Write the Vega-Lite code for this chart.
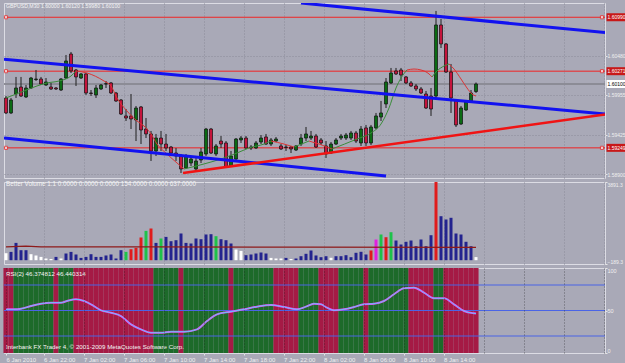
{
"$schema": "https://vega.github.io/schema/vega-lite/v6.json",
"background": "#a9a9b7",
"padding": {"left": 1, "top": 2, "right": 0, "bottom": 0},
"bounds": "flush",
"spacing": 4,
"config": {
  "view": {"stroke": "#dcdce4", "strokeWidth": 1},
  "font": "Liberation Sans",
  "axis": {"domain": false, "labelFont": "Liberation Sans", "labelFontSize": 5, "labelColor": "#f0f0f0", "tickColor": "#e6e6e6", "tickSize": 2, "gridColor": "#8b8b99", "gridDash": [1, 2], "gridWidth": 1, "labelOverlap": false, "labelPadding": 0},
  "text": {"font": "Liberation Sans"}
},
"resolve": {"scale": {"x": "independent", "y": "independent", "color": "independent"}},
"datasets": {
"bars": [
{"t":0,"o":1.59914,"h":1.5994,"l":1.597,"c":1.59714,"v":348,"vt":"low","z":"bear"},
{"t":1,"o":1.59714,"h":1.59914,"l":1.597,"c":1.59887,"v":413,"vt":"neutral","z":"bear"},
{"t":2,"o":1.59967,"h":1.60194,"l":1.59914,"c":1.60047,"v":861,"vt":"neutral","z":"bull"},
{"t":3,"o":1.6006,"h":1.60194,"l":1.59927,"c":1.5994,"v":498,"vt":"neutral","z":"bull"},
{"t":4,"o":1.59927,"h":1.60087,"l":1.59914,"c":1.60047,"v":498,"vt":"neutral","z":"bull"},
{"t":5,"o":1.60047,"h":1.60194,"l":1.60034,"c":1.6018,"v":299,"vt":"low","z":"bull"},
{"t":6,"o":1.6016,"h":1.60287,"l":1.6014,"c":1.60167,"v":234,"vt":"low","z":"bull"},
{"t":7,"o":1.60167,"h":1.60194,"l":1.60087,"c":1.601,"v":164,"vt":"low","z":"bull"},
{"t":8,"o":1.60087,"h":1.6018,"l":1.60074,"c":1.60127,"v":85,"vt":"low","z":"bull"},
{"t":9,"o":1.6006,"h":1.60114,"l":1.6002,"c":1.60034,"v":60,"vt":"low","z":"bull"},
{"t":10,"o":1.60047,"h":1.6006,"l":1.6002,"c":1.60034,"v":164,"vt":"neutral","z":"bear"},
{"t":11,"o":1.6002,"h":1.6018,"l":1.60007,"c":1.60167,"v":85,"vt":"low","z":"bull"},
{"t":12,"o":1.6018,"h":1.60487,"l":1.60167,"c":1.60407,"v":333,"vt":"neutral","z":"bull"},
{"t":13,"o":1.605,"h":1.60527,"l":1.60247,"c":1.60274,"v":413,"vt":"neutral","z":"bull"},
{"t":14,"o":1.60287,"h":1.603,"l":1.60074,"c":1.60194,"v":284,"vt":"neutral","z":"bear"},
{"t":15,"o":1.6018,"h":1.60247,"l":1.60167,"c":1.60234,"v":114,"vt":"neutral","z":"bear"},
{"t":16,"o":1.60234,"h":1.60247,"l":1.59954,"c":1.5998,"v":164,"vt":"neutral","z":"bear"},
{"t":17,"o":1.5998,"h":1.6002,"l":1.5994,"c":1.59974,"v":299,"vt":"neutral","z":"bear"},
{"t":18,"o":1.59954,"h":1.60087,"l":1.59914,"c":1.60047,"v":164,"vt":"neutral","z":"bear"},
{"t":19,"o":1.60034,"h":1.601,"l":1.6002,"c":1.60087,"v":164,"vt":"neutral","z":"bear"},
{"t":20,"o":1.601,"h":1.6014,"l":1.60047,"c":1.60104,"v":234,"vt":"neutral","z":"bear"},
{"t":21,"o":1.60114,"h":1.60127,"l":1.59967,"c":1.5998,"v":284,"vt":"neutral","z":"bear"},
{"t":22,"o":1.5998,"h":1.59994,"l":1.5986,"c":1.59874,"v":85,"vt":"neutral","z":"bear"},
{"t":23,"o":1.59887,"h":1.599,"l":1.59687,"c":1.597,"v":498,"vt":"neutral","z":"bear"},
{"t":24,"o":1.59674,"h":1.59767,"l":1.59607,"c":1.59647,"v":413,"vt":"churn","z":"bear"},
{"t":25,"o":1.59674,"h":1.59967,"l":1.595,"c":1.59634,"v":547,"vt":"climax","z":"bear"},
{"t":26,"o":1.5962,"h":1.59807,"l":1.5934,"c":1.5978,"v":612,"vt":"climax","z":"bear"},
{"t":27,"o":1.59794,"h":1.59807,"l":1.593,"c":1.59487,"v":1130,"vt":"climax","z":"bear"},
{"t":28,"o":1.595,"h":1.59647,"l":1.5938,"c":1.59434,"v":1458,"vt":"churn","z":"bear"},
{"t":29,"o":1.59434,"h":1.59474,"l":1.59074,"c":1.59207,"v":1577,"vt":"climax","z":"bear"},
{"t":30,"o":1.59207,"h":1.59434,"l":1.5914,"c":1.5938,"v":861,"vt":"neutral","z":"bull"},
{"t":31,"o":1.5938,"h":1.59474,"l":1.59207,"c":1.593,"v":1080,"vt":"churn","z":"bull"},
{"t":32,"o":1.593,"h":1.59434,"l":1.59207,"c":1.59247,"v":1159,"vt":"neutral","z":"bull"},
{"t":33,"o":1.5926,"h":1.59274,"l":1.5914,"c":1.5918,"v":945,"vt":"neutral","z":"bull"},
{"t":34,"o":1.5918,"h":1.59247,"l":1.59074,"c":1.5914,"v":995,"vt":"neutral","z":"bull"},
{"t":35,"o":1.5914,"h":1.59167,"l":1.58914,"c":1.58967,"v":1329,"vt":"neutral","z":"bear"},
{"t":36,"o":1.5898,"h":1.59167,"l":1.58967,"c":1.5914,"v":861,"vt":"neutral","z":"bull"},
{"t":37,"o":1.59047,"h":1.5914,"l":1.59007,"c":1.591,"v":831,"vt":"neutral","z":"bull"},
{"t":38,"o":1.58967,"h":1.5914,"l":1.5894,"c":1.59074,"v":1080,"vt":"neutral","z":"bull"},
{"t":39,"o":1.59087,"h":1.59247,"l":1.59047,"c":1.59194,"v":1045,"vt":"neutral","z":"bull"},
{"t":40,"o":1.59167,"h":1.59514,"l":1.5914,"c":1.595,"v":1279,"vt":"neutral","z":"bull"},
{"t":41,"o":1.595,"h":1.59514,"l":1.59167,"c":1.5918,"v":1294,"vt":"neutral","z":"bull"},
{"t":42,"o":1.59167,"h":1.593,"l":1.5914,"c":1.59274,"v":1194,"vt":"churn","z":"bull"},
{"t":43,"o":1.5934,"h":1.59407,"l":1.59247,"c":1.593,"v":1045,"vt":"neutral","z":"bull"},
{"t":44,"o":1.59314,"h":1.5934,"l":1.5898,"c":1.58994,"v":995,"vt":"neutral","z":"bull"},
{"t":45,"o":1.59007,"h":1.59207,"l":1.58994,"c":1.5914,"v":831,"vt":"neutral","z":"bear"},
{"t":46,"o":1.591,"h":1.5938,"l":1.59074,"c":1.59367,"v":532,"vt":"low","z":"bull"},
{"t":47,"o":1.59354,"h":1.59407,"l":1.59314,"c":1.5938,"v":463,"vt":"low","z":"bull"},
{"t":48,"o":1.5938,"h":1.59407,"l":1.59234,"c":1.59247,"v":249,"vt":"neutral","z":"bull"},
{"t":49,"o":1.59247,"h":1.59287,"l":1.5922,"c":1.5926,"v":284,"vt":"neutral","z":"bull"},
{"t":50,"o":1.59247,"h":1.5934,"l":1.59234,"c":1.59314,"v":333,"vt":"neutral","z":"bull"},
{"t":51,"o":1.59327,"h":1.5942,"l":1.593,"c":1.5938,"v":383,"vt":"neutral","z":"bull"},
{"t":52,"o":1.59394,"h":1.59434,"l":1.59287,"c":1.593,"v":333,"vt":"neutral","z":"bull"},
{"t":53,"o":1.593,"h":1.5938,"l":1.59274,"c":1.59354,"v":114,"vt":"low","z":"bull"},
{"t":54,"o":1.5934,"h":1.59394,"l":1.59327,"c":1.59367,"v":85,"vt":"low","z":"bear"},
{"t":55,"o":1.59274,"h":1.593,"l":1.5922,"c":1.59234,"v":85,"vt":"low","z":"bear"},
{"t":56,"o":1.5926,"h":1.59287,"l":1.59207,"c":1.59254,"v":114,"vt":"neutral","z":"bear"},
{"t":57,"o":1.5926,"h":1.59274,"l":1.5918,"c":1.59234,"v":60,"vt":"low","z":"bear"},
{"t":58,"o":1.5922,"h":1.59287,"l":1.59207,"c":1.59274,"v":85,"vt":"neutral","z":"bear"},
{"t":59,"o":1.593,"h":1.59434,"l":1.59274,"c":1.5938,"v":199,"vt":"neutral","z":"bull"},
{"t":60,"o":1.5938,"h":1.59527,"l":1.5934,"c":1.59434,"v":318,"vt":"neutral","z":"bull"},
{"t":61,"o":1.5938,"h":1.59474,"l":1.59354,"c":1.59407,"v":483,"vt":"neutral","z":"bull"},
{"t":62,"o":1.59407,"h":1.59434,"l":1.59247,"c":1.5926,"v":234,"vt":"neutral","z":"bull"},
{"t":63,"o":1.59354,"h":1.5938,"l":1.59287,"c":1.59314,"v":149,"vt":"neutral","z":"bear"},
{"t":64,"o":1.59274,"h":1.5934,"l":1.59114,"c":1.59167,"v":199,"vt":"neutral","z":"bear"},
{"t":65,"o":1.5918,"h":1.59327,"l":1.59167,"c":1.593,"v":119,"vt":"low","z":"bear"},
{"t":66,"o":1.593,"h":1.5938,"l":1.59287,"c":1.59354,"v":199,"vt":"neutral","z":"bear"},
{"t":67,"o":1.5938,"h":1.59434,"l":1.59354,"c":1.59407,"v":199,"vt":"neutral","z":"bull"},
{"t":68,"o":1.5938,"h":1.59447,"l":1.59354,"c":1.5942,"v":249,"vt":"neutral","z":"bull"},
{"t":69,"o":1.5938,"h":1.59474,"l":1.59354,"c":1.59447,"v":149,"vt":"neutral","z":"bull"},
{"t":70,"o":1.59447,"h":1.59474,"l":1.59314,"c":1.5934,"v":368,"vt":"neutral","z":"bull"},
{"t":71,"o":1.59314,"h":1.5954,"l":1.59274,"c":1.595,"v":418,"vt":"neutral","z":"bull"},
{"t":72,"o":1.59514,"h":1.59554,"l":1.59274,"c":1.59314,"v":284,"vt":"neutral","z":"bear"},
{"t":73,"o":1.59314,"h":1.59554,"l":1.59287,"c":1.59527,"v":483,"vt":"climax","z":"bull"},
{"t":74,"o":1.59514,"h":1.59714,"l":1.595,"c":1.59674,"v":1030,"vt":"climaxchurn","z":"bull"},
{"t":75,"o":1.5966,"h":1.59874,"l":1.59607,"c":1.59714,"v":1279,"vt":"churn","z":"bull"},
{"t":76,"o":1.59834,"h":1.6018,"l":1.5978,"c":1.60127,"v":1144,"vt":"climax","z":"bull"},
{"t":77,"o":1.60114,"h":1.60314,"l":1.601,"c":1.60247,"v":1393,"vt":"churn","z":"bull"},
{"t":78,"o":1.60274,"h":1.60314,"l":1.6022,"c":1.60234,"v":980,"vt":"neutral","z":"bull"},
{"t":79,"o":1.60287,"h":1.60314,"l":1.6014,"c":1.6022,"v":781,"vt":"neutral","z":"bull"},
{"t":80,"o":1.60194,"h":1.60207,"l":1.601,"c":1.60114,"v":916,"vt":"neutral","z":"bull"},
{"t":81,"o":1.60114,"h":1.6014,"l":1.6006,"c":1.60074,"v":980,"vt":"neutral","z":"bear"},
{"t":82,"o":1.60074,"h":1.601,"l":1.60007,"c":1.60034,"v":697,"vt":"neutral","z":"bear"},
{"t":83,"o":1.60034,"h":1.6006,"l":1.59967,"c":1.5998,"v":1030,"vt":"neutral","z":"bear"},
{"t":84,"o":1.59967,"h":1.60007,"l":1.59767,"c":1.5978,"v":697,"vt":"neutral","z":"bear"},
{"t":85,"o":1.5994,"h":1.60047,"l":1.59674,"c":1.59767,"v":1244,"vt":"neutral","z":"bear"},
{"t":86,"o":1.5994,"h":1.61074,"l":1.59887,"c":1.60887,"v":3891.3,"vt":"climax","z":"bull"},
{"t":87,"o":1.60887,"h":1.60967,"l":1.6058,"c":1.60634,"v":2189,"vt":"neutral","z":"bull"},
{"t":88,"o":1.60634,"h":1.60647,"l":1.60247,"c":1.6026,"v":2025,"vt":"neutral","z":"bear"},
{"t":89,"o":1.6026,"h":1.60367,"l":1.59714,"c":1.59914,"v":2110,"vt":"neutral","z":"bear"},
{"t":90,"o":1.59887,"h":1.599,"l":1.59527,"c":1.59554,"v":1329,"vt":"neutral","z":"bear"},
{"t":91,"o":1.59567,"h":1.59807,"l":1.59554,"c":1.5978,"v":1279,"vt":"neutral","z":"bear"},
{"t":92,"o":1.59754,"h":1.59887,"l":1.5974,"c":1.5986,"v":916,"vt":"neutral","z":"bear"},
{"t":93,"o":1.59874,"h":1.6002,"l":1.5986,"c":1.5998,"v":697,"vt":"neutral","z":"bear"},
{"t":94,"o":1.6,"h":1.6012,"l":1.5998,"c":1.601,"v":154,"vt":"low","z":"bear"}
],
"ma": [
{"seg":"A","dir":"up","t":0,"p":1.59914},{"seg":"A","dir":"up","t":3.6,"p":1.60007},{"seg":"A","dir":"up","t":6.2,"p":1.60074},{"seg":"A","dir":"up","t":8.2,"p":1.60114},{"seg":"A","dir":"up","t":10.6,"p":1.6014},{"seg":"A","dir":"up","t":13,"p":1.60207},{"seg":"A","dir":"up","t":14,"p":1.60274},
{"seg":"B","dir":"down","t":14,"p":1.60274},{"seg":"B","dir":"down","t":16.2,"p":1.60247},{"seg":"B","dir":"down","t":19.6,"p":1.6014},{"seg":"B","dir":"down","t":21,"p":1.60074},{"seg":"B","dir":"down","t":22.2,"p":1.59914},{"seg":"B","dir":"down","t":24.2,"p":1.5974},{"seg":"B","dir":"down","t":26.2,"p":1.59607},{"seg":"B","dir":"down","t":27.6,"p":1.5954},{"seg":"B","dir":"down","t":29,"p":1.59434},{"seg":"B","dir":"down","t":30.2,"p":1.593},{"seg":"B","dir":"down","t":32.2,"p":1.59167},{"seg":"B","dir":"down","t":34.2,"p":1.59047},{"seg":"B","dir":"down","t":35.6,"p":1.58967},
{"seg":"C","dir":"up","t":35.6,"p":1.58967},{"seg":"C","dir":"up","t":39.6,"p":1.59034},{"seg":"C","dir":"up","t":43.6,"p":1.59114},{"seg":"C","dir":"up","t":46.2,"p":1.5918},{"seg":"C","dir":"up","t":48.6,"p":1.59247},{"seg":"C","dir":"up","t":51.6,"p":1.593},{"seg":"C","dir":"up","t":53,"p":1.5934},
{"seg":"D","dir":"down","t":53,"p":1.5934},{"seg":"D","dir":"down","t":55.6,"p":1.593},{"seg":"D","dir":"down","t":57.6,"p":1.5926},
{"seg":"E","dir":"up","t":57.6,"p":1.5926},{"seg":"E","dir":"up","t":60.6,"p":1.5934},
{"seg":"F","dir":"down","t":60.6,"p":1.5934},{"seg":"F","dir":"down","t":62.6,"p":1.593},{"seg":"F","dir":"down","t":65.2,"p":1.59234},
{"seg":"G","dir":"up","t":65.2,"p":1.59234},{"seg":"G","dir":"up","t":70.2,"p":1.59367},{"seg":"G","dir":"up","t":73,"p":1.59447},{"seg":"G","dir":"up","t":75,"p":1.59567},{"seg":"G","dir":"up","t":76.6,"p":1.5978},{"seg":"G","dir":"up","t":78,"p":1.60047},{"seg":"G","dir":"up","t":79,"p":1.6018},{"seg":"G","dir":"up","t":80.2,"p":1.60287},
{"seg":"H","dir":"down","t":80.2,"p":1.60287},{"seg":"H","dir":"down","t":81.6,"p":1.603},{"seg":"H","dir":"down","t":83,"p":1.60287},{"seg":"H","dir":"down","t":84.6,"p":1.60234},{"seg":"H","dir":"down","t":85.2,"p":1.60194},
{"seg":"I","dir":"up","t":85.2,"p":1.60194},{"seg":"I","dir":"up","t":86.2,"p":1.60274},{"seg":"I","dir":"up","t":87.6,"p":1.6034},{"seg":"I","dir":"up","t":88.6,"p":1.60367},
{"seg":"J","dir":"down","t":88.6,"p":1.60367},{"seg":"J","dir":"down","t":89.6,"p":1.603},{"seg":"J","dir":"down","t":91,"p":1.60167},{"seg":"J","dir":"down","t":92.2,"p":1.60047},{"seg":"J","dir":"down","t":93.2,"p":1.59967},{"seg":"J","dir":"down","t":94,"p":1.5994}
],
"trends": [
{"k":"blue","x1":59,"p1":1.6118,"x2":119.8,"p2":1.60785},
{"k":"blue","x1":-0.4,"p1":1.60431,"x2":119.8,"p2":1.59701},
{"k":"blue","x1":-0.4,"p1":1.5938,"x2":76,"p2":1.58874},
{"k":"red","x1":35.4,"p1":1.58914,"x2":119.8,"p2":1.59693}
],
"levels": [
{"p":1.6099,"k":"level","lab":"1.60990"},
{"p":1.60271,"k":"level","lab":"1.60271"},
{"p":1.59249,"k":"level","lab":"1.59249"},
{"p":1.601,"k":"bid","lab":"1.60100"}
],
"volma": [
{"t":0,"v":665},{"t":4,"v":700},{"t":7,"v":665},{"t":30,"v":660},{"t":60,"v":650},{"t":94,"v":637}
],
"rsi": [
{"t":0,"r":51.4},{"t":1.6,"r":51.4},{"t":3,"r":52},{"t":5,"r":55.3},{"t":7,"r":58},{"t":9,"r":59.2},{"t":11,"r":59.2},{"t":12.2,"r":61.2},{"t":14,"r":63.2},{"t":15.6,"r":61.2},{"t":17,"r":57.3},{"t":19,"r":50.2},{"t":21,"r":47.4},{"t":23,"r":43.5},{"t":25,"r":33.7},{"t":27,"r":27.8},{"t":29,"r":23.8},{"t":31,"r":23.8},{"t":33,"r":25},{"t":35.6,"r":25},{"t":38.2,"r":27.8},{"t":40.2,"r":37.6},{"t":42.2,"r":45.5},{"t":45,"r":48.6},{"t":47.6,"r":51.4},{"t":50.2,"r":54.5},{"t":53,"r":56.5},{"t":55.6,"r":54.1},{"t":58.2,"r":51.4},{"t":60,"r":54.5},{"t":61.6,"r":58},{"t":63,"r":57.3},{"t":64.2,"r":53.3},{"t":65.6,"r":50.2},{"t":67.6,"r":51.4},{"t":69.6,"r":54.1},{"t":71.6,"r":57.3},{"t":73.6,"r":58},{"t":75.6,"r":61.2},{"t":77.6,"r":69.1},{"t":79.6,"r":76.2},{"t":81.6,"r":76.9},{"t":83.6,"r":71},{"t":85.6,"r":64.4},{"t":87.6,"r":64.4},{"t":89.6,"r":57.3},{"t":91.6,"r":49.4},{"t":93.6,"r":46.7},{"t":94,"r":46.4}
]
},
"vconcat": [
{
  "width": 601, "height": 175,
  "layer": [
    {"data": {"name": "levels"}, "mark": {"type": "rule"},
     "encoding": {
       "y": {"field": "p", "type": "quantitative", "title": null, "scale": {"domain": [1.58847, 1.6118], "nice": false, "zero": false, "padding": 0},
             "axis": {"orient": "right", "values": [1.589, 1.59165, 1.59425, 1.5969, 1.59955, 1.60215, 1.6048, 1.6074], "format": ".5f", "grid": true}},
       "color": {"condition": {"test": "datum.k == 'bid'", "value": "#8c8c96"}, "value": "#f02424"},
       "strokeWidth": {"condition": {"test": "datum.k == 'bid'", "value": 2}, "value": 1}
     }},
    {"data": {"name": "bars"}, "mark": {"type": "rule", "color": "#1e1e1e", "strokeWidth": 1},
     "encoding": {
       "x": {"field": "t", "type": "quantitative", "title": null, "scale": {"domain": [-0.4, 119.8], "nice": false, "zero": false, "padding": 0},
             "axis": {"values": [7.5, 15.5, 23.5, 31.5, 39.5, 47.5, 55.5, 63.5, 71.5, 79.5, 87.5, 95.5, 103.5, 111.5, 119.5], "labels": false, "ticks": false, "grid": true}},
       "y": {"field": "l", "type": "quantitative", "title": null},
       "y2": {"field": "h"}
     }},
    {"data": {"name": "bars"}, "mark": {"type": "bar", "size": 3, "stroke": "#101010", "strokeWidth": 0.7},
     "encoding": {
       "x": {"field": "t", "type": "quantitative", "title": null},
       "y": {"field": "o", "type": "quantitative", "title": null},
       "y2": {"field": "c"},
       "color": {"condition": {"test": "datum.c >= datum.o", "value": "#0b6b14"}, "value": "#c4143c"}
     }},
    {"data": {"name": "ma"}, "mark": {"type": "line", "strokeWidth": 1, "interpolate": "monotone"},
     "encoding": {
       "x": {"field": "t", "type": "quantitative", "title": null},
       "y": {"field": "p", "type": "quantitative", "title": null},
       "detail": {"field": "seg", "type": "nominal"},
       "color": {"field": "dir", "type": "nominal", "scale": {"domain": ["up", "down"], "range": ["#3a8c3a", "#dc3434"]}, "legend": null}
     }},
    {"data": {"name": "trends"}, "mark": {"type": "rule", "clip": true},
     "encoding": {
       "x": {"field": "x1", "type": "quantitative", "title": null},
       "x2": {"field": "x2"},
       "y": {"field": "p1", "type": "quantitative", "title": null},
       "y2": {"field": "p2"},
       "color": {"condition": {"test": "datum.k == 'blue'", "value": "#1212f0"}, "value": "#f01414"},
       "strokeWidth": {"condition": {"test": "datum.k == 'blue'", "value": 3}, "value": 2.5}
     }},
    {"data": {"name": "levels"}, "transform": [{"filter": "datum.k == 'level'"}],
     "mark": {"type": "square", "size": 10, "filled": true, "color": "#ffffff", "stroke": "#f02424", "strokeWidth": 1},
     "encoding": {"x": {"datum": 0, "type": "quantitative", "title": null}, "y": {"field": "p", "type": "quantitative", "title": null}}},
    {"data": {"name": "levels"}, "transform": [{"filter": "datum.k == 'level'"}],
     "mark": {"type": "square", "size": 10, "filled": true, "color": "#ffffff", "stroke": "#f02424", "strokeWidth": 1},
     "encoding": {"x": {"datum": 119.2, "type": "quantitative", "title": null}, "y": {"field": "p", "type": "quantitative", "title": null}}},
    {"data": {"name": "levels"},
     "mark": {"type": "bar", "orient": "horizontal", "size": 8, "clip": false},
     "encoding": {
       "x": {"datum": 120.1, "type": "quantitative", "title": null}, "x2": {"datum": 125},
       "y": {"field": "p", "type": "quantitative", "title": null},
       "color": {"condition": {"test": "datum.k == 'bid'", "value": "#ffffff"}, "value": "#c81818"}
     }},
    {"data": {"name": "levels"},
     "mark": {"type": "text", "align": "left", "baseline": "middle", "fontSize": 5, "clip": false},
     "encoding": {
       "x": {"datum": 120.3, "type": "quantitative", "title": null},
       "y": {"field": "p", "type": "quantitative", "title": null},
       "text": {"field": "lab"},
       "color": {"condition": {"test": "datum.k == 'bid'", "value": "#000000"}, "value": "#ffffff"}
     }},
    {"data": {"values": [{"txt": "GBPUSD,M30 1.60000 1.60120 1.59980 1.60100"}]},
     "mark": {"type": "text", "align": "left", "baseline": "middle", "fontSize": 5.2, "color": "#f4f4f4"},
     "encoding": {"x": {"datum": 0, "type": "quantitative", "title": null}, "y": {"datum": 1.6114, "type": "quantitative", "title": null}, "text": {"field": "txt"}}}
  ]
},
{
  "width": 601, "height": 82,
  "layer": [
    {"data": {"name": "bars"}, "mark": {"type": "bar", "size": 3},
     "encoding": {
       "x": {"field": "t", "type": "quantitative", "title": null, "scale": {"domain": [-0.4, 119.8], "nice": false, "zero": false, "padding": 0},
             "axis": {"values": [7.5, 15.5, 23.5, 31.5, 39.5, 47.5, 55.5, 63.5, 71.5, 79.5, 87.5, 95.5, 103.5, 111.5, 119.5], "labels": false, "ticks": false, "grid": true}},
       "y": {"field": "v", "type": "quantitative", "title": null, "scale": {"domain": [-189.3, 3891.3], "nice": false, "zero": false, "padding": 0},
             "axis": {"orient": "right", "values": [-189.3, 3891.3], "format": ".1f", "grid": false, "labelFlush": true}},
       "y2": {"datum": 0},
       "color": {"field": "vt", "type": "nominal", "scale": {"domain": ["neutral", "low", "climax", "churn", "climaxchurn"], "range": ["#23238e", "#ffffff", "#e01c1c", "#1ec24a", "#e020e0"]}, "legend": null}
     }},
    {"data": {"name": "volma"}, "mark": {"type": "line", "color": "#8e1a1a", "strokeWidth": 1.2},
     "encoding": {"x": {"field": "t", "type": "quantitative", "title": null}, "y": {"field": "v", "type": "quantitative", "title": null}}},
    {"data": {"values": [{"txt": "Better Volume 1.1 0.0000 0.0000 0.0000 154.0000 0.0000 637.0000"}]},
     "mark": {"type": "text", "align": "left", "baseline": "middle", "fontSize": 6.3, "color": "#f4f4f4"},
     "encoding": {"x": {"datum": 0, "type": "quantitative", "title": null}, "y": {"datum": 3780, "type": "quantitative", "title": null}, "text": {"field": "txt"}}}
  ]
},
{
  "width": 601, "height": 85,
  "layer": [
    {"data": {"name": "bars"}, "mark": {"type": "bar", "size": 5.1},
     "encoding": {
       "x": {"field": "t", "type": "quantitative", "title": null, "scale": {"domain": [-0.4, 119.8], "nice": false, "zero": false, "padding": 0},
             "axis": {"orient": "bottom", "values": [0, 7.5, 15.5, 23.5, 31.5, 39.5, 47.5, 55.5, 63.5, 71.5, 79.5, 87.5, 95.5, 103.5, 111.5, 119.5],
                      "labelExpr": "datum.value < 90 ? ['6 Jan 2010','6 Jan 22:00','7 Jan 02:00','7 Jan 06:00','7 Jan 10:00','7 Jan 14:00','7 Jan 18:00','7 Jan 22:00','8 Jan 02:00','8 Jan 06:00','8 Jan 10:00','8 Jan 14:00'][round((datum.value + 0.5) / 8)] : ''",
                      "labelAlign": "left", "labelBaseline": "top", "labelFontSize": 6, "tickSize": 2, "labelPadding": 1,
                      "tickOpacity": {"condition": {"test": "datum.value > 90", "value": 0}, "value": 1},
                      "grid": true, "gridColor": "#1a1a1a", "gridOpacity": 0.5, "zindex": 1}},
       "y": {"datum": 100, "type": "quantitative", "title": null, "scale": {"domain": [0, 100], "nice": false, "zero": false, "padding": 0},
             "axis": {"orient": "right", "values": [0, 20, 50, 80, 100], "grid": false, "labelFlush": true, "labelFontSize": 5.5}},
       "y2": {"datum": 0},
       "color": {"field": "z", "type": "nominal", "scale": {"domain": ["bull", "bear"], "range": ["#1d6a2a", "#a51a45"]}, "legend": null}
     }},
    {"data": {"values": [{"lv": 20}, {"lv": 50}, {"lv": 80}]}, "mark": {"type": "rule", "color": "#4a64e6", "strokeWidth": 1.2},
     "encoding": {"y": {"field": "lv", "type": "quantitative", "title": null}}},
    {"data": {"name": "rsi"}, "mark": {"type": "line", "color": "#f040f0", "strokeWidth": 2, "interpolate": "monotone"},
     "encoding": {"x": {"field": "t", "type": "quantitative", "title": null}, "y": {"field": "r", "type": "quantitative", "title": null}}},
    {"data": {"name": "rsi"}, "mark": {"type": "line", "color": "#40e8ff", "strokeWidth": 0.8, "interpolate": "monotone"},
     "encoding": {"x": {"field": "t", "type": "quantitative", "title": null}, "y": {"field": "r", "type": "quantitative", "title": null}}},
    {"data": {"values": [{"txt": "RSI(2) 46.374812 46.440314", "yy": 93}, {"txt": "Interbank FX Trader 4, © 2001-2009 MetaQuotes Software Corp.", "yy": 7}]},
     "mark": {"type": "text", "align": "left", "baseline": "middle", "fontSize": 6.2, "color": "#f4f4f4"},
     "encoding": {"x": {"datum": 0, "type": "quantitative", "title": null}, "y": {"field": "yy", "type": "quantitative", "title": null}, "text": {"field": "txt"}}}
  ]
}
]
}
